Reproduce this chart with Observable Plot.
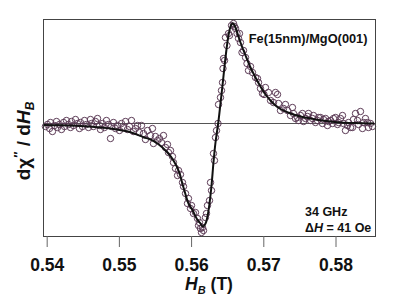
<!DOCTYPE html>
<html>
<head>
<meta charset="utf-8">
<script src="https://cdn.jsdelivr.net/npm/d3@7"></script>
<script src="https://cdn.jsdelivr.net/npm/@observablehq/plot@0.6"></script>
<style>
  html, body { margin: 0; padding: 0; background: #fff; }
  svg { display: block; }
</style>
</head>
<body>
<div id="chart"></div>
<script>
const fieldT = [
  0.53976,0.54004,0.54032,0.54046,0.54073,0.54101,0.54129,0.54143,0.54170,0.54198,
  0.54226,0.54240,0.54267,0.54295,0.54323,0.54337,0.54364,0.54392,0.54420,0.54447,
  0.54461,0.54489,0.54517,0.54544,0.54572,0.54600,0.54614,0.54641,0.54669,0.54697,
  0.54724,0.54738,0.54766,0.54794,0.54821,0.54849,0.54877,0.54891,0.54918,0.54946,
  0.54974,0.55001,0.55029,0.55057,0.55084,0.55112,0.55140,0.55168,0.55195,0.55223,
  0.55251,0.55278,0.55306,0.55334,0.55361,0.55389,0.55431,0.55458,0.55472,0.55500,
  0.55528,0.55555,0.55583,0.55611,0.55638,0.55666,0.55680,0.55708,0.55735,0.55749,
  0.55777,0.55805,0.55819,0.55846,0.55874,0.55888,0.55916,0.55943,0.55957,0.55985,
  0.55999,0.56026,0.56054,0.56082,0.56096,0.56109,0.56123,0.56137,0.56151,0.56165,
  0.56192,0.56206,0.56220,0.56248,0.56262,0.56276,0.56303,0.56317,0.56331,0.56345,
  0.56366,0.56373,0.56400,0.56414,0.56428,0.56435,0.56442,0.56456,0.56469,0.56490,
  0.56511,0.56525,0.56553,0.56580,0.56594,0.56608,0.56629,0.56650,0.56663,0.56677,
  0.56698,0.56719,0.56747,0.56767,0.56788,0.56816,0.56843,0.56885,0.56913,0.56927,
  0.56954,0.56982,0.57003,0.57023,0.57065,0.57093,0.57134,0.57162,0.57190,0.57204,
  0.57231,0.57273,0.57300,0.57328,0.57370,0.57397,0.57411,0.57439,0.57467,0.57481,
  0.57508,0.57536,0.57550,0.57578,0.57605,0.57619,0.57647,0.57674,0.57688,0.57716,
  0.57744,0.57758,0.57785,0.57813,0.57827,0.57855,0.57882,0.57896,0.57924,0.57951,
  0.57965,0.57993,0.58021,0.58035,0.58062,0.58090,0.58104,0.58131,0.58159,0.58173,
  0.58201,0.58228,0.58242,0.58270,0.58298,0.58312,0.58339,0.58367,0.58381,0.58408,
  0.58436,0.58450,0.58478,0.58505
];
const signal = [
  -0.03,-0.01,-0.05,0.01,-0.08,-0.02,0.02,-0.04,-0.01,-0.06,
  0.01,-0.03,0.03,-0.01,-0.04,0.02,-0.02,0.04,0.00,-0.05,
  0.01,-0.03,0.03,-0.01,-0.04,0.04,0.00,-0.03,0.02,0.05,
  -0.02,-0.06,0.00,-0.04,0.03,-0.01,-0.15,-0.03,0.01,-0.05,
  -0.02,-0.07,0.00,-0.04,0.02,-0.06,-0.03,0.03,-0.08,-0.05,
  -0.02,-0.09,-0.02,-0.10,-0.16,-0.07,-0.12,-0.05,-0.20,-0.13,
  -0.17,-0.15,-0.19,-0.12,-0.24,-0.21,-0.29,-0.27,-0.33,-0.39,
  -0.45,-0.52,-0.47,-0.51,-0.59,-0.63,-0.70,-0.80,-0.75,-0.85,
  -0.82,-0.90,-0.89,-0.95,-1.02,-0.99,-1.05,-1.09,-1.04,-1.07,
  -0.94,-0.90,-0.82,-0.77,-0.59,-0.67,-0.30,-0.37,-0.14,-0.07,
  0.00,0.19,0.26,0.33,0.41,0.55,0.65,0.63,0.86,0.78,
  0.90,0.88,0.98,1.00,0.97,0.95,0.90,0.85,0.90,0.81,
  0.71,0.73,0.66,0.60,0.53,0.57,0.51,0.46,0.45,0.41,
  0.35,0.30,0.29,0.36,0.31,0.23,0.21,0.31,0.29,0.20,
  0.13,0.15,0.19,0.13,0.08,0.16,0.10,0.05,0.06,0.03,
  0.08,0.10,0.02,0.05,0.07,0.10,0.03,0.05,0.08,0.01,
  0.03,0.06,0.06,0.00,0.04,0.05,-0.02,0.02,0.03,0.00,
  0.05,0.06,-0.01,0.01,0.05,0.08,0.00,-0.07,-0.02,0.01,
  -0.04,-0.04,0.04,0.10,0.03,-0.01,0.12,-0.05,0.01,0.05,
  0.01,-0.04,0.00,-0.03
];
// Fit curve
const fitField = [
  0.53960,0.54184,0.54461,0.54738,0.54877,0.55154,0.55334,0.55431,0.55528,0.55666,
  0.55749,0.55819,0.55888,0.55957,0.56008,0.56078,0.56123,0.56158,0.56193,0.56220,
  0.56248,0.56276,0.56303,0.56331,0.56368,0.56400,0.56428,0.56456,0.56483,0.56511,
  0.56539,0.56562,0.56587,0.56608,0.56636,0.56677,0.56747,0.56816,0.56885,0.56954,
  0.57024,0.57093,0.57162,0.57231,0.57370,0.57508,0.57647,0.57785,0.57924,0.58062,
  0.58270,0.58520
];
const fitSignal = [
  -0.015,-0.018,-0.025,-0.040,-0.050,-0.087,-0.137,-0.160,-0.200,-0.290,
  -0.370,-0.470,-0.640,-0.800,-0.860,-0.960,-1.000,-1.030,-1.000,-0.930,
  -0.800,-0.620,-0.390,-0.190,0.000,0.200,0.380,0.570,0.740,0.880,
  0.970,1.000,0.990,0.960,0.900,0.810,0.680,0.560,0.460,0.370,
  0.290,0.230,0.180,0.145,0.100,0.070,0.050,0.032,0.020,0.010,
  0.004,0.000
];
const xTicks = [0.54, 0.55, 0.56, 0.57, 0.58];

const points = fieldT.map((x, i) => ({x, y: signal[i]}));
const fit = fitField.map((x, i) => ({x, y: fitSignal[i]}));

const W = 415, H = 299;
const svg = Plot.plot({
  width: W,
  height: H,
  marginLeft: 43,
  marginRight: 40,
  marginTop: 19,
  marginBottom: 63,
  style: {fontFamily: "'Liberation Sans', Arial, Helvetica, sans-serif", background: "white"},
  x: {domain: [0.53949, 0.58547]},
  y: {domain: [-1.13, 1.04], axis: null},
  marks: [
    Plot.ruleY([0], {stroke: "#555", strokeWidth: 1}),
    Plot.dot(points, {x: "x", y: "y", r: 3.2, stroke: "#5b3a55", strokeWidth: 1, fill: "none"}),
    Plot.line(fit, {x: "x", y: "y", stroke: "#111", strokeWidth: 2, curve: "catmull-rom"}),
    Plot.frame({stroke: "#444", strokeWidth: 1}),
    Plot.axisX({ticks: xTicks, tickFormat: d3.format(".2f"), tickSize: 11, tickPadding: 11,
      stroke: "#666", fill: "#111", fontSize: 17.5, fontWeight: "bold", label: null}),
    Plot.text(["Fe(15nm)/MgO(001)"], {frameAnchor: "top-right", dx: -8, dy: 14,
      fontSize: 12.8, fontWeight: "bold", fill: "#111", textAnchor: "end"})
  ]
});

const s = d3.select(svg);
// x-axis label: H_B (T)
const xl = s.append("text")
  .attr("x", 209).attr("y", 290)
  .attr("text-anchor", "middle")
  .attr("font-size", 17.5).attr("font-weight", "bold").attr("fill", "#111");
xl.append("tspan").attr("font-style", "italic").text("H");
xl.append("tspan").attr("font-style", "italic").attr("font-size", 11).attr("dy", 4).text("B");
xl.append("tspan").attr("dy", -4).text(" (T)");

// y-axis label: dχ″ / dH_B
const yl = s.append("text")
  .attr("transform", "translate(30,141) rotate(-90)")
  .attr("text-anchor", "middle")
  .attr("font-size", 19).attr("font-weight", "bold").attr("fill", "#111");
yl.append("tspan").text("dχ");
yl.append("tspan").attr("dy", -7).attr("font-size", 13).text("″");
yl.append("tspan").attr("dy", 7).text(" / d");
yl.append("tspan").attr("font-style", "italic").text("H");
yl.append("tspan").attr("font-style", "italic").attr("font-size", 12).attr("dy", 4).text("B");

// lower-right annotation
s.append("text").attr("x", 305).attr("y", 216).attr("text-anchor", "start")
  .attr("font-size", 12.5).attr("font-weight", "bold").attr("fill", "#111").text("34 GHz");
const a2 = s.append("text").attr("x", 305).attr("y", 232).attr("text-anchor", "start")
  .attr("font-size", 12.5).attr("font-weight", "bold").attr("fill", "#111");
a2.append("tspan").text("Δ");
a2.append("tspan").attr("font-style", "italic").text("H");
a2.append("tspan").text(" = 41 Oe");

document.getElementById("chart").appendChild(svg);
</script>
</body>
</html>
